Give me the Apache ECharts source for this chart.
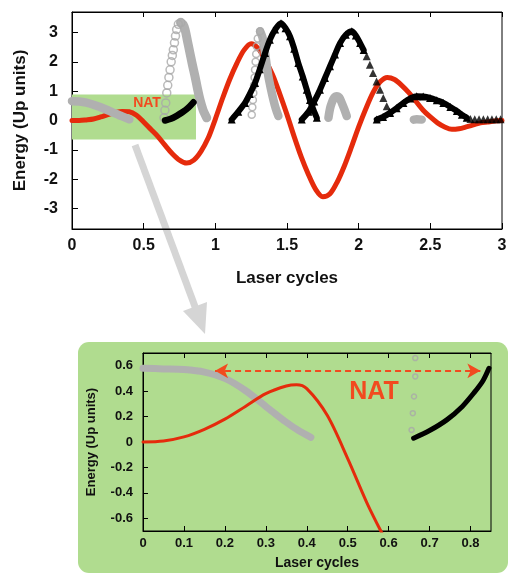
<!DOCTYPE html>
<html><head><meta charset="utf-8">
<script src="https://cdn.jsdelivr.net/npm/echarts@6/dist/echarts.min.js"></script>
<style>html,body{margin:0;padding:0;background:#fff}#c{width:511px;height:574px}</style>
</head><body><div id="c"></div>
<script>
// ---- tick labels ----
const topXTicks = [0, 0.5, 1, 1.5, 2, 2.5, 3];
const topYTicks = [-3, -2, -1, 0, 1, 2, 3];
const insetXTicks = [0, 0.1, 0.2, 0.3, 0.4, 0.5, 0.6, 0.7, 0.8];
const insetYTicks = [-0.6, -0.4, -0.2, 0, 0.2, 0.4, 0.6];

// ---- top panel: red line (energy vs laser cycles) ----
const redTop = [[0,0],[0.05,0.0],[0.1,0.02],[0.15,0.05],[0.2,0.12],[0.25,0.2],[0.3,0.27],[0.35,0.31],[0.4,0.3],[0.45,0.18],[0.5,-0.05],[0.55,-0.3],[0.6,-0.55],[0.65,-0.85],[0.7,-1.13],[0.75,-1.35],[0.8,-1.45],[0.85,-1.35],[0.9,-1.05],[0.95,-0.6],[1.0,0.05],[1.05,0.75],[1.1,1.4],[1.15,1.95],[1.2,2.4],[1.25,2.62],[1.3,2.45],[1.35,2.05],[1.4,1.55],[1.45,0.9],[1.5,0.2],[1.55,-0.55],[1.6,-1.25],[1.65,-1.85],[1.7,-2.35],[1.75,-2.6],[1.8,-2.5],[1.85,-2.1],[1.9,-1.55],[1.95,-0.9],[2.0,-0.22],[2.05,0.4],[2.1,0.95],[2.15,1.32],[2.2,1.47],[2.25,1.4],[2.3,1.2],[2.35,0.95],[2.4,0.65],[2.45,0.35],[2.5,0.12],[2.55,-0.08],[2.6,-0.22],[2.65,-0.3],[2.7,-0.28],[2.75,-0.22],[2.8,-0.15],[2.85,-0.08],[2.9,-0.05],[2.95,-0.02],[3.0,0]];

// ---- top panel: grey open circles ----
const greyA = [[0,0.66],[0.05,0.65],[0.1,0.61],[0.15,0.54],[0.2,0.45],[0.25,0.35],[0.3,0.24],[0.35,0.14],[0.4,0.04]];
const greyBLeft = [[0.642,0.09],[0.648,0.35],[0.654,0.6],[0.661,0.94],[0.668,1.2],[0.676,1.47],[0.684,1.73],[0.692,2.0],[0.7,2.22],[0.707,2.41],[0.715,2.65],[0.722,2.88],[0.73,3.1],[0.742,3.28],[0.759,3.34]];
const greyBRight = [[0.759,3.34],[0.775,3.28],[0.789,3.1],[0.806,2.7],[0.823,2.3],[0.84,1.9],[0.858,1.51],[0.875,1.1],[0.893,0.71],[0.915,0.35],[0.94,0.09]];
const greyCLeft = [[1.254,0.2],[1.258,0.45],[1.262,0.7],[1.265,0.94],[1.27,1.2],[1.274,1.47],[1.277,1.73],[1.281,2.0],[1.285,2.27],[1.289,2.53],[1.296,2.8],[1.312,3.04]];
const greyCRight = [[1.312,3.04],[1.328,2.85],[1.338,2.6],[1.347,2.3],[1.358,1.9],[1.37,1.51],[1.387,1.1],[1.405,0.71],[1.422,0.4],[1.44,0.15]];
const greyD = [[1.789,0.09],[1.8,0.4],[1.812,0.6],[1.83,0.78],[1.847,0.83],[1.865,0.78],[1.882,0.6],[1.9,0.38],[1.917,0.15]];
const greyE = [[2.385,0.03],[2.405,0.04],[2.44,0.03]];

// ---- top panel: black triangles ----
const blackA = [[0.649,0.0],[0.69,0.06],[0.73,0.16],[0.77,0.28],[0.81,0.43],[0.847,0.62]];
const blackB = [[1.114,0.03],[1.16,0.3],[1.207,0.6],[1.24,0.9],[1.277,1.28],[1.31,1.75],[1.347,2.3],[1.38,2.75],[1.417,3.1],[1.458,3.32],[1.49,3.15],[1.521,2.87],[1.55,2.45],[1.579,1.96],[1.61,1.5],[1.638,1.05],[1.66,0.7],[1.684,0.37],[1.708,0.09]];
const blackC = [[1.603,0.03],[1.65,0.3],[1.69,0.65],[1.73,1.05],[1.765,1.45],[1.8,1.85],[1.835,2.25],[1.87,2.64],[1.91,2.92],[1.952,3.04],[1.98,2.9],[2.01,2.64],[2.035,2.4]];
const blackCTail = [[2.056,2.19],[2.078,1.9],[2.1,1.62],[2.125,1.33],[2.149,1.05],[2.172,0.77],[2.196,0.49],[2.215,0.3]];
const blackD = [[2.126,0.03],[2.17,0.12],[2.219,0.26],[2.265,0.42],[2.312,0.6],[2.36,0.75],[2.405,0.83],[2.45,0.82],[2.498,0.77],[2.545,0.69],[2.591,0.6],[2.64,0.46],[2.685,0.32],[2.72,0.2],[2.754,0.09]];
const blackDTail = [[2.78,0.05],[2.81,0.04],[2.84,0.04],[2.87,0.04],[2.9,0.04],[2.93,0.04],[2.96,0.04],[2.99,0.04]];

// ---- top panel: highlighted region (zoomed in the inset) ----
const zoomBox = [[0, -0.65], [0.865, 0.885]];

// ---- inset panel ----
const redInset = [[0,0],[0.05,0.008],[0.1,0.04],[0.15,0.1],[0.2,0.18],[0.25,0.28],[0.3,0.38],[0.35,0.44],[0.375,0.45],[0.4,0.42],[0.45,0.21],[0.5,-0.13],[0.55,-0.5],[0.6,-0.82]];
const greyInset = [[0,0.58],[0.05,0.575],[0.1,0.57],[0.15,0.55],[0.2,0.5],[0.25,0.405],[0.3,0.28],[0.35,0.155],[0.38,0.09],[0.41,0.037]];
const greyInsetRings = [[0.665,0.66],[0.665,0.516],[0.662,0.358],[0.659,0.227],[0.656,0.095]];
const blackInset = [[0.661,0.03],[0.7,0.09],[0.742,0.174],[0.78,0.28],[0.808,0.385],[0.83,0.48],[0.845,0.58]];
const natArrow = [[0.176, 0.56], [0.824, 0.56]];

const RED = '#e52b0c', GREY = '#b0b0b0', GREEN = '#b0dc8f', NATC = '#f24a1f';
const FONT = 'Liberation Sans, Arial, sans-serif';

function lineS(data, color, width, extra, xi, yi) {
  return Object.assign({
    type: 'line', data: data, xAxisIndex: xi, yAxisIndex: yi,
    smooth: 0.3, symbol: 'none', silent: true, animation: false,
    lineStyle: { color: color, width: width, cap: 'round', join: 'round' },
    itemStyle: { color: color }
  }, extra || {});
}
function ringS(data, size, xi, yi, z) {
  return { type: 'scatter', data: data, xAxisIndex: xi, yAxisIndex: yi, silent: true, animation: false,
    symbol: 'circle', symbolSize: size, z: z || 3,
    itemStyle: { color: 'rgba(0,0,0,0)', borderColor: '#a9a9a9', borderWidth: 1.5 } };
}
function triS(data, xi, yi) {
  return { type: 'scatter', data: data, xAxisIndex: xi, yAxisIndex: yi, silent: true, animation: false,
    symbol: 'triangle', symbolSize: 8, z: 5, itemStyle: { color: '#000' } };
}
function blackLine(data) {
  return lineS(data, '#000', 6, { z: 5, symbol: 'triangle', symbolSize: 8, showSymbol: true, showAllSymbol: true }, 0, 0);
}

const axLabel = (size, margin) => ({ fontFamily: FONT, fontWeight: 'bold', fontSize: size, color: '#111', margin: margin });

const option = {
  animation: false,
  backgroundColor: '#fff',
  grid: [
    { left: 72, top: 12, right: 9, bottom: 345, show: true, borderColor: '#000', borderWidth: 1, backgroundColor: 'transparent', z: 1 },
    { left: 143, top: 353, right: 20, bottom: 43, show: true, borderColor: '#000', borderWidth: 1, backgroundColor: 'transparent', z: 1 }
  ],
  xAxis: [
    { type: 'value', gridIndex: 0, min: 0, max: 3, position: 'bottom',
      axisLine: { onZero: false, lineStyle: { color: '#000' } },
      axisTick: { inside: true, length: 6, customValues: topXTicks, lineStyle: { color: '#000' } },
      axisLabel: Object.assign(axLabel(16, 9), { customValues: topXTicks }),
      splitLine: { show: false },
      name: 'Laser cycles', nameLocation: 'middle', nameGap: 41,
      nameTextStyle: { fontFamily: FONT, fontWeight: 'bold', fontSize: 17, color: '#111' } },
    { type: 'value', gridIndex: 0, min: 0, max: 3, position: 'top',
      axisLine: { onZero: false, lineStyle: { color: '#000' } },
      axisTick: { inside: true, length: 5, customValues: topXTicks, lineStyle: { color: '#000' } },
      axisLabel: { show: false }, splitLine: { show: false } },
    { type: 'value', gridIndex: 1, min: 0, max: 0.85, position: 'bottom',
      axisLine: { onZero: false, lineStyle: { color: '#000' } },
      axisTick: { inside: true, length: 5, customValues: insetXTicks, lineStyle: { color: '#000' } },
      axisLabel: Object.assign(axLabel(13, 6), { customValues: insetXTicks }),
      splitLine: { show: false },
      name: 'Laser cycles', nameLocation: 'middle', nameGap: 25,
      nameTextStyle: { fontFamily: FONT, fontWeight: 'bold', fontSize: 14, color: '#111' } },
    { type: 'value', gridIndex: 1, min: 0, max: 0.85, position: 'top',
      axisLine: { onZero: false, lineStyle: { color: '#000' } },
      axisTick: { inside: true, length: 5, customValues: insetXTicks, lineStyle: { color: '#000' } },
      axisLabel: { show: false }, splitLine: { show: false } }
  ],
  yAxis: [
    { type: 'value', gridIndex: 0, min: -3.7, max: 3.7,
      axisLine: { onZero: false, lineStyle: { color: '#000' } },
      axisTick: { inside: true, length: 6, customValues: topYTicks, lineStyle: { color: '#000' } },
      axisLabel: Object.assign(axLabel(16, 14), { customValues: topYTicks }),
      splitLine: { show: false },
      name: 'Energy (Up units)', nameLocation: 'middle', nameGap: 43,
      nameTextStyle: { fontFamily: FONT, fontWeight: 'bold', fontSize: 17, color: '#111' } },
    { type: 'value', gridIndex: 1, min: -0.7, max: 0.7,
      axisLine: { onZero: false, lineStyle: { color: '#000' } },
      axisTick: { inside: true, length: 5, customValues: insetYTicks, lineStyle: { color: '#000' } },
      axisLabel: Object.assign(axLabel(13, 10), { customValues: insetYTicks }),
      splitLine: { show: false },
      name: 'Energy (Up units)', nameLocation: 'middle', nameGap: 45,
      nameTextStyle: { fontFamily: FONT, fontWeight: 'bold', fontSize: 13, color: '#111' } }
  ],
  graphic: [
    { type: 'rect', z: -10, shape: { x: 78, y: 342, width: 430, height: 231, r: 11 }, style: { fill: GREEN } },
    { type: 'group', z: 50, children: [
      { type: 'line', shape: { x1: 135, y1: 145, x2: 197, y2: 312 }, style: { stroke: '#d5d5d5', lineWidth: 7 } },
      { type: 'polygon', shape: { points: [[205, 334], [183, 311], [207, 302]] }, style: { fill: '#d5d5d5' } }
    ]},
    { type: 'text', z: 60, x: 147, y: 103, style: { text: 'NAT', fill: NATC, font: 'bold 14px ' + FONT, align: 'center', verticalAlign: 'middle' } },
    { type: 'text', z: 60, x: 374, y: 392, style: { text: 'NAT', fill: NATC, font: 'bold 25px ' + FONT, align: 'center', verticalAlign: 'middle' } }
  ],
  series: [
    // highlighted box in top panel
    { type: 'line', data: [[0, 0]], xAxisIndex: 0, yAxisIndex: 0, symbol: 'none', lineStyle: { width: 0 }, z: 1, silent: true,
      markArea: { silent: true, itemStyle: { color: GREEN, opacity: 1 },
        data: [[{ coord: zoomBox[0] }, { coord: zoomBox[1] }]] } },
    // red
    lineS(redTop, RED, 5, { z: 2 }, 0, 0),
    // grey
    lineS(greyA, GREY, 8.5, { z: 3 }, 0, 0),
    ringS(greyBLeft, 8, 0, 0, 3),
    lineS(greyBRight, GREY, 9, { z: 3 }, 0, 0),
    ringS(greyCLeft, 7, 0, 0, 3),
    lineS(greyCRight, GREY, 8.5, { z: 3 }, 0, 0),
    lineS(greyD, GREY, 8.5, { z: 3 }, 0, 0),
    lineS(greyE, GREY, 8.5, { z: 3 }, 0, 0),
    // black
    lineS(blackA, '#000', 6.5, { z: 5 }, 0, 0),
    blackLine(blackB),
    blackLine(blackC),
    triS(blackCTail, 0, 0),
    blackLine(blackD),
    triS(blackDTail, 0, 0),
    // inset
    lineS(redInset, RED, 3, { z: 4,
      markLine: { silent: true, symbol: ['arrow', 'arrow'], symbolSize: [11, 13],
        lineStyle: { color: NATC, type: [6, 4], width: 2 }, label: { show: false },
        data: [[{ coord: natArrow[0] }, { coord: natArrow[1] }]] } }, 2, 1),
    lineS(greyInset, GREY, 7, { z: 3 }, 2, 1),
    ringS(greyInsetRings, 5, 2, 1, 3),
    lineS(blackInset, '#000', 5, { z: 5 }, 2, 1)
  ]
};
const chart = echarts.init(document.getElementById('c'), null, { renderer: 'canvas' });
chart.setOption(option);
</script></body></html>
